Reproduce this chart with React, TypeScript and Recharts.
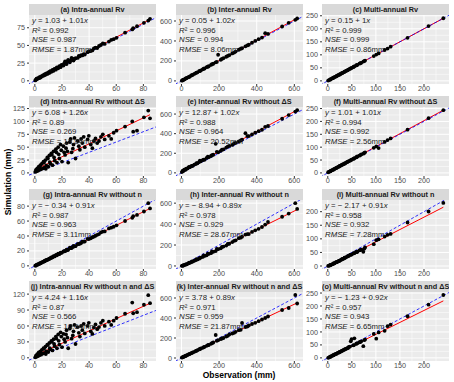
import React from 'react';
import { ScatterChart, Scatter, XAxis, YAxis, CartesianGrid, ReferenceLine } from 'recharts';

// observations (mm) per time scale
const intraObs = [0.3, 0.8, 1.2, 1.8, 2.3, 2.9, 3.4, 4.1, 4.6, 5.2, 5.9, 6.4, 7.1, 7.8, 8.5, 9.2, 9.9, 10.7, 11.4, 12.2, 13.0, 13.8, 14.6, 15.5, 16.3, 17.2, 18.1, 19.0, 20.0, 21.1, 22.3, 23.4, 24.6, 25.8, 27.1, 28.5, 30.0, 31.6, 33.2, 35.0, 36.8, 38.9, 41.2, 43.5, 46.0, 48.7, 51.5, 54.6, 58.1, 60.2, 66.5, 71.8, 72.5, 75.3, 80.4, 83.6, 84.9,
  3.7, 6.8, 8.1, 9.6, 11.0, 12.6, 14.2, 15.9, 17.6, 19.5, 21.6, 23.0, 24.0, 26.4, 28.0, 29.2, 32.4, 34.1, 36.0, 39.8, 42.4, 44.7, 47.3, 50.1, 56.3];
const interObs = [2, 6, 10, 15, 20, 26, 32, 38, 45, 52, 60, 68, 76, 85, 94, 103, 113, 123, 134, 145, 157, 169, 182, 195, 209, 223, 238, 254, 270, 288, 305, 322, 340, 358, 375, 392, 410, 428, 445, 460, 535, 570, 605, 615,
  8, 23, 41, 56, 80, 98, 118, 140, 162, 188, 215, 246, 280, 315, 350];
const multiObs = [0.8, 2.5, 4.6, 6.2, 8.9, 10.4, 12.7, 14.1, 16.8, 18.5, 20.3, 22.9, 24.4, 26.7, 28.2, 30.9, 32.5, 34.8, 36.1, 38.6, 40.9, 43.7, 46.2, 49.5, 52.8, 55.3, 58.9, 61.4, 65.8, 69.6, 73.9, 77.5, 95.6, 100.8, 105.7, 118.2, 124.3, 130.6, 165.8, 209.5, 240.2,
  5.5, 11.6, 17.4, 23.7, 29.5, 35.4, 42.1, 47.8, 54.1, 60.2, 67.7, 75.8];

// simulations (mm)
const simA = [0.6, 1.5, 2.9, 2.6, 3.9, 3.7, 5.1, 4.8, 6.4, 6.1, 7.6, 7.3, 8.9, 8.5, 10.4, 9.8, 11.9, 11.2, 13.6, 12.8, 15.4, 14.1, 16.9, 15.8, 18.9, 17.6, 20.8, 19.3, 22.4, 21.6, 27.5, 23.7, 29.5, 26.2, 32.5, 28.6, 31.9, 32.4, 34.6, 35.9, 37.2, 40.4, 42.1, 45.8, 46.4, 50.6, 52.1, 55.4, 58.9, 60.8, 68.0, 72.6, 74.4, 77.1, 81.9, 85.1, 87.6,
  4.2, 7.9, 9.6, 10.5, 12.8, 13.6, 16.2, 17.9, 19.1, 22.3, 24.6, 24.2, 27.8, 28.9, 31.1, 31.0, 35.2, 36.4, 37.8, 41.6, 43.0, 46.8, 49.2, 52.9, 57.8];
const simD = [2, 6, 3, 9, 4, 12, 6, 15, 7, 18, 9, 22, 10, 25, 14, 30, 12, 34, 18, 38, 15, 42, 24, 46, 20, 50, 28, 55, 22, 52, 35, 58, 20, 60, 40, 55, 28, 62, 45, 58, 50, 65, 55, 62, 58, 70, 65, 72, 78, 82, 90, 100, 80, 82, 108, 121, 106,
  10, 20, 8, 28, 21, 35, 30, 40, 36, 44, 40, 48, 42, 66, 47, 68, 52, 66, 70, 72, 48, 67, 62, 75, 66];
const simG = [0.2, 0.5, 1.4, 1.3, 2.3, 2.4, 3.3, 3.4, 4.3, 4.5, 5.4, 5.6, 6.5, 6.8, 7.6, 8.3, 8.8, 9.6, 10.2, 11.2, 11.5, 12.9, 12.6, 14.5, 14.1, 16.2, 15.8, 17.6, 17.8, 19.5, 19.8, 21.8, 21.6, 24.3, 23.9, 26.8, 26.4, 29.1, 29.7, 32.4, 32.6, 36.2, 37.0, 39.1, 41.6, 44.8, 46.1, 50.2, 52.4, 54.3, 60.1, 64.3, 66.5, 68.2, 72.8, 84.0, 76.9,
  3.1, 6.0, 7.5, 8.4, 9.8, 11.2, 12.8, 14.7, 15.6, 17.4, 19.4, 20.5, 21.2, 23.7, 25.2, 26.1, 29.3, 30.6, 32.5, 35.9, 38.3, 40.3, 42.6, 45.9, 51.2];
const simJ = [1, 4, 2, 7, 3, 10, 5, 12, 6, 15, 8, 18, 9, 21, 12, 25, 11, 28, 16, 32, 14, 35, 22, 40, 18, 44, 25, 48, 20, 45, 30, 52, 18, 55, 36, 50, 26, 58, 40, 52, 46, 60, 50, 57, 54, 66, 60, 68, 70, 75, 83, 104, 84, 86, 100, 118, 103,
  8, 17, 7, 24, 18, 30, 26, 36, 32, 40, 35, 44, 38, 60, 42, 62, 47, 60, 64, 66, 45, 63, 58, 70, 62];
const simB = [2, 6, 11, 15, 21, 27, 33, 38, 46, 54, 61, 70, 78, 86, 97, 105, 116, 124, 138, 147, 160, 172, 186, 262, 212, 228, 242, 258, 275, 294, 312, 327, 346, 362, 382, 400, 418, 434, 478, 470, 545, 582, 612, 625,
  9, 25, 40, 58, 83, 99, 122, 142, 168, 190, 220, 250, 284, 322, 355];
const simE = [8, 18, 20, 32, 30, 42, 45, 55, 58, 68, 72, 85, 90, 98, 110, 118, 130, 135, 152, 160, 172, 185, 296, 210, 225, 240, 258, 275, 285, 305, 320, 340, 405, 375, 392, 410, 425, 440, 470, 478, 552, 590, 625, 640,
  22, 38, 62, 72, 98, 125, 135, 165, 182, 215, 236, 268, 300, 330, 375];
const simH = [1, 3, 4, 9, 12, 15, 20, 26, 30, 36, 42, 50, 55, 62, 70, 80, 86, 96, 102, 115, 122, 135, 142, 160, 168, 185, 195, 212, 228, 245, 265, 280, 300, 305, 325, 340, 355, 372, 395, 420, 470, 500, 600, 545,
  5, 16, 32, 44, 66, 78, 100, 118, 138, 162, 182, 210, 240, 270, 305];
const simK = [4, 7, 12, 15, 20, 25, 30, 36, 42, 48, 56, 62, 70, 78, 86, 95, 102, 112, 122, 130, 142, 155, 230, 178, 190, 200, 215, 235, 245, 262, 278, 350, 310, 325, 340, 352, 368, 385, 400, 415, 480, 500, 630, 545,
  9, 22, 38, 52, 72, 90, 108, 128, 148, 172, 195, 222, 252, 282, 315];
const simC = [1.2, 2.9, 4.5, 6.6, 9.3, 10.2, 13.1, 14.5, 16.6, 18.9, 20.6, 22.8, 24.9, 26.5, 28.7, 30.8, 33.0, 34.6, 36.5, 38.9, 40.7, 44.1, 46.5, 49.8, 52.6, 55.8, 59.2, 61.5, 66.1, 69.4, 74.3, 77.9, 95.4, 101.2, 105.5, 118.6, 124.0, 131.2, 165.5, 210.3, 240.6,
  5.7, 11.9, 17.3, 24.0, 29.6, 35.7, 42.3, 47.8, 54.5, 60.1, 68.0, 76.1];
const simF = [2.5, 4.0, 6.2, 7.9, 10.6, 11.9, 14.6, 15.5, 18.7, 19.6, 22.3, 24.5, 26.9, 28.0, 30.6, 32.9, 34.1, 36.9, 37.4, 40.8, 42.5, 45.6, 47.5, 51.4, 54.2, 57.4, 60.1, 63.8, 67.0, 71.9, 74.8, 80.1, 97.5, 102.8, 96.5, 120.5, 127.6, 133.8, 167.9, 212.6, 243.8,
  6.9, 12.5, 18.9, 24.8, 31.0, 36.2, 43.9, 49.5, 55.2, 62.0, 69.1, 77.3];
const simI = [0.3, 1.2, 2.8, 3.5, 6.1, 7.3, 9.6, 10.1, 13.2, 14.4, 15.6, 18.9, 19.4, 22.0, 23.3, 25.9, 27.1, 29.8, 30.5, 32.9, 35.7, 37.4, 40.8, 42.1, 45.9, 47.2, 51.6, 52.8, 57.4, 60.2, 52.5, 68.1, 80.4, 95.2, 98.1, 108.4, 114.9, 118.3, 160.2, 200.6, 232.1,
  4.1, 9.2, 14.5, 19.1, 25.6, 30.9, 36.0, 41.9, 47.5, 51.0, 58.6, 63.9];
const simO = [0.4, 1.9, 3.6, 5.8, 7.9, 9.2, 11.1, 13.2, 15.1, 16.8, 19.2, 20.4, 22.6, 24.1, 26.4, 28.1, 30.4, 31.9, 33.5, 35.4, 37.6, 42.3, 43.8, 72.1, 48.5, 75.4, 54.2, 56.1, 60.3, 63.8, 45.2, 70.6, 92.3, 74.1, 98.2, 104.3, 122.1, 128.4, 160.6, 205.2, 242.5,
  4.6, 10.4, 15.6, 21.2, 27.1, 32.8, 38.3, 64.0, 49.1, 55.4, 61.2, 68.5];

// tick labels
const intraTicks = [0, 20, 40, 60, 80];
const interTicks = [0, 200, 400, 600];
const multiTicks = [0, 50, 100, 150, 200];
const ticks25 = [0, 25, 50, 75];
const ticks125 = [0, 25, 50, 75, 100, 125];
const ticks20 = [0, 20, 40, 60, 80];
const ticks30 = [0, 30, 60, 90, 120];
const ticks250 = [0, 50, 100, 150, 200, 250];
const ticks200 = [0, 50, 100, 150, 200];

const COL_X = [29, 176, 322];
const ROW_Y = [4, 96, 189, 281];
const PW = 127;
const PH = 69;
const STRIP_H = 11;
const YW = 22;
const XH = 11;
const PAD = 5;
const FONT = '"Liberation Sans", Arial, Helvetica, sans-serif';

const X_INTRA = [-4.3, 89.3];
const X_INTER = [-29, 646];
const X_MULTI = [-12, 252];

const panels = [
  { title: '(a) Intra-annual Rv', obs: intraObs, sim: simA, a: 1.03, b: 1.01, r2: '0.992', nse: '0.987', rmse: '1.87', xt: intraTicks, xd: X_INTRA, yt: ticks25, yd: [-4.5, 93], col: 0, row: 0 },
  { title: '(b) Inter-annual Rv', obs: interObs, sim: simB, a: 0.05, b: 1.02, r2: '0.996', nse: '0.994', rmse: '8.06', xt: interTicks, xd: X_INTER, yt: interTicks, yd: [-31, 660], col: 1, row: 0 },
  { title: '(c) Multi-annual Rv', obs: multiObs, sim: simC, a: 0.15, b: 1, r2: '0.999', nse: '0.999', rmse: '0.86', xt: multiTicks, xd: X_MULTI, yt: ticks250, yd: [-12, 253], col: 2, row: 0 },
  { title: '(d) Intra-annual Rv without ΔS', obs: intraObs, sim: simD, a: 6.08, b: 1.26, r2: '0.89', nse: '0.269', rmse: '13.84', xt: intraTicks, xd: X_INTRA, yt: ticks125, yd: [-6, 128], col: 0, row: 1 },
  { title: '(e) Inter-annual Rv without ΔS', obs: interObs, sim: simE, a: 12.87, b: 1.02, r2: '0.988', nse: '0.964', rmse: '20.52', xt: interTicks, xd: X_INTER, yt: interTicks, yd: [-32, 672], col: 1, row: 1 },
  { title: '(f) Multi-annual Rv without ΔS', obs: multiObs, sim: simF, a: 1.01, b: 1.01, r2: '0.994', nse: '0.992', rmse: '2.56', xt: multiTicks, xd: X_MULTI, yt: ticks250, yd: [-12, 256], col: 2, row: 1 },
  { title: '(g) Intra-annual Rv without n', obs: intraObs, sim: simG, a: -0.34, b: 0.91, r2: '0.987', nse: '0.963', rmse: '3.11', xt: intraTicks, xd: X_INTRA, yt: ticks20, yd: [-4.2, 88.2], col: 0, row: 2 },
  { title: '(h) Inter-annual Rv without n', obs: interObs, sim: simH, a: -8.94, b: 0.89, r2: '0.978', nse: '0.929', rmse: '28.67', xt: interTicks, xd: X_INTER, yt: interTicks, yd: [-29, 630], col: 1, row: 2 },
  { title: '(i) Multi-annual Rv without n', obs: multiObs, sim: simI, a: -2.17, b: 0.91, r2: '0.958', nse: '0.932', rmse: '7.28', xt: multiTicks, xd: X_MULTI, yt: ticks200, yd: [-11, 243], col: 2, row: 2 },
  { title: '(j) Intra-annual Rv without n and ΔS', obs: intraObs, sim: simJ, a: 4.24, b: 1.16, r2: '0.87', nse: '0.566', rmse: '10.64', xt: intraTicks, xd: X_INTRA, yt: ticks30, yd: [-6, 124], col: 0, row: 3 },
  { title: '(k) Inter-annual Rv without n and ΔS', obs: interObs, sim: simK, a: 3.78, b: 0.89, r2: '0.971', nse: '0.959', rmse: '21.87', xt: interTicks, xd: X_INTER, yt: interTicks, yd: [-30, 660], col: 1, row: 3 },
  { title: '(o) Multi-annual Rv without n and ΔS', obs: multiObs, sim: simO, a: -1.23, b: 0.92, r2: '0.957', nse: '0.943', rmse: '6.65', xt: multiTicks, xd: X_MULTI, yt: ticks250, yd: [-12, 254], col: 2, row: 3 },
];

function minors(ticks: number[], d: number[]) {
  const step = ticks[1] - ticks[0];
  const out: number[] = [];
  for (let v = ticks[0] - step / 2; v <= d[1]; v += step) if (v >= d[0]) out.push(v);
  return out;
}

const Dot = (props: any) => <circle cx={props.cx} cy={props.cy} r={1.9} fill="#000" />;

const tickStyle = { fontSize: 7.2, fill: '#4d4d4d', fontFamily: FONT };

function Panel({ p }: { p: any }) {
  const left = COL_X[p.col];
  const top = ROW_Y[p.row];
  const pts = p.obs.map((x: number, i: number) => ({ x, y: p.sim[i] })).filter((d: any) => d.y !== undefined);
  const xMin = Math.min(...p.obs);
  const xMax = Math.max(...p.obs);
  const lo = Math.min(p.xd[0], p.yd[0]) - 50;
  const hi = Math.max(p.xd[1], p.yd[1]) + 50;
  const lineH = 9.6;
  return (
    <>
      <div style={{ position: 'absolute', left, top, width: PW, height: STRIP_H, background: '#d9d9d9', color: '#1a1a1a', fontFamily: FONT, fontWeight: 'bold', fontSize: 7.3, lineHeight: STRIP_H + 'px', textAlign: 'center', whiteSpace: 'nowrap', overflow: 'hidden' }}>
        {p.title}
      </div>
      <div style={{ position: 'absolute', left: left - YW, top: top + STRIP_H - PAD }}>
        <ScatterChart width={YW + PW} height={PH + XH + PAD} margin={{ top: PAD, right: 0, bottom: 0, left: 0 }}>
          <CartesianGrid fill="#ebebeb" stroke="#fff" strokeWidth={0.5} horizontalValues={minors(p.yt, p.yd)} verticalValues={minors(p.xt, p.xd)} />
          <CartesianGrid fill="none" stroke="#fff" strokeWidth={1} horizontalValues={p.yt} verticalValues={p.xt} />
          <XAxis type="number" dataKey="x" domain={p.xd} ticks={p.xt} allowDataOverflow height={XH} axisLine={false} tickSize={2} tickMargin={0} tickLine={{ stroke: '#333' }} tick={tickStyle} interval={0} />
          <YAxis type="number" dataKey="y" domain={p.yd} ticks={p.yt} allowDataOverflow width={YW} axisLine={false} tickSize={2} tickMargin={2} tickLine={{ stroke: '#333' }} tick={tickStyle} interval={0} />
          <Scatter data={pts} shape={Dot} isAnimationActive={false} />
          <ReferenceLine segment={[{ x: xMin, y: p.a + p.b * xMin }, { x: xMax, y: p.a + p.b * xMax }]} stroke="#ff0000" strokeWidth={1} ifOverflow="hidden" />
          <ReferenceLine segment={[{ x: lo, y: lo }, { x: hi, y: hi }]} stroke="#0000ff" strokeWidth={0.8} strokeDasharray="3 2" ifOverflow="hidden" />
        </ScatterChart>
      </div>
      <div style={{ position: 'absolute', left: left + 3, top: top + STRIP_H + 1, fontFamily: FONT, fontSize: 7.8, color: '#222', lineHeight: lineH + 'px', whiteSpace: 'nowrap' }}>
        <div><i>y</i> = {p.a < 0 ? '− ' : ''}{Math.abs(p.a)} + {p.b}<i>x</i></div>
        <div><i>R</i>² = {p.r2}</div>
        <div><i>NSE</i> = {p.nse}</div>
        <div><i>RMSE</i> = {p.rmse}mm</div>
      </div>
    </>
  );
}

export default function App() {
  return (
    <div style={{ position: 'absolute', left: 0, top: 0, width: 454, height: 382, background: '#fff', overflow: 'hidden' }}>
      {panels.map((p, i) => <Panel key={i} p={p} />)}
      <div style={{ position: 'absolute', left: 8 - 60, top: 182 - 6, width: 120, height: 12, transform: 'rotate(-90deg)', textAlign: 'center', fontFamily: FONT, fontWeight: 'bold', fontSize: 8.5, lineHeight: '12px', color: '#000' }}>
        Simulation (mm)
      </div>
      <div style={{ position: 'absolute', left: 239 - 60, top: 370, width: 120, textAlign: 'center', fontFamily: FONT, fontWeight: 'bold', fontSize: 8.5, lineHeight: '11px', color: '#000' }}>
        Observation (mm)
      </div>
    </div>
  );
}
